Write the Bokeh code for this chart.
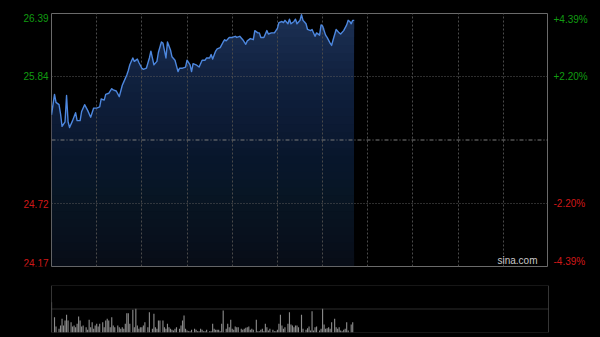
import numpy as np
from bokeh.plotting import figure
from bokeh.models import Range1d, FixedTicker, Grid, Span, Label
from bokeh.layouts import column, row
from bokeh.core.properties import value
from bokeh.embed import file_html
from bokeh.resources import INLINE

# ---- data ----
session_minutes = 330          # 09:30-12:00, 13:00-16:00
grid_minutes = [30, 60, 90, 120, 150, 180, 210, 240, 270, 300]
prev_close = 25.28
price_ticks = [26.39, 25.84, 24.72, 24.17]
price_labels = ["26.39", "25.84", "24.72", "24.17"]
pct_labels = ["+4.39%", "+2.20%", "-2.20%", "-4.39%"]

minutes = [0, 2, 3, 5, 6, 7, 9, 10, 11, 12,
           14, 16, 17, 19, 20, 22, 24, 26, 28, 30,
           32, 33, 35, 36, 38, 40, 41, 43, 45, 46,
           47, 48, 50, 51, 52, 54, 55, 57, 58, 60,
           61, 63, 65, 66, 68, 70, 71, 73, 74, 76,
           77, 79, 80, 82, 84, 85, 87, 89, 90, 92,
           93, 94, 96, 98, 100, 102, 103, 105, 106, 107,
           109, 110, 112, 114, 115, 116, 118, 120, 122, 123,
           125, 127, 129, 130, 132, 134, 135, 137, 138, 139,
           141, 143, 144, 146, 148, 150, 151, 153, 154, 155,
           157, 158, 159, 161, 162, 163, 165, 166, 167, 169,
           170, 172, 173, 175, 176, 178, 179, 180, 182, 183,
           185, 186, 187, 189, 191, 192, 194, 196, 197, 198,
           199, 200, 201]

prices = [25.50, 25.68, 25.61, 25.59, 25.51, 25.40, 25.44, 25.67, 25.44, 25.39,
          25.45, 25.52, 25.45, 25.45, 25.53, 25.59, 25.54, 25.48, 25.56, 25.56,
          25.57, 25.64, 25.63, 25.68, 25.69, 25.73, 25.72, 25.71, 25.66, 25.71,
          25.76, 25.79, 25.85, 25.89, 25.94, 26.00, 25.97, 25.99, 25.96, 25.91,
          25.90, 25.91, 26.00, 26.06, 25.94, 25.97, 26.05, 26.14, 26.13, 26.00,
          26.14, 26.07, 26.01, 25.98, 25.88, 25.91, 25.91, 25.92, 25.98, 25.94,
          25.88, 25.95, 25.94, 25.92, 25.98, 25.98, 26.00, 26.00, 26.03, 25.99,
          26.06, 26.08, 26.09, 26.14, 26.16, 26.15, 26.18, 26.18, 26.19, 26.18,
          26.19, 26.16, 26.12, 26.15, 26.17, 26.16, 26.24, 26.22, 26.22, 26.18,
          26.18, 26.24, 26.21, 26.22, 26.22, 26.26, 26.31, 26.32, 26.31, 26.33,
          26.30, 26.34, 26.30, 26.32, 26.34, 26.30, 26.33, 26.38, 26.33, 26.30,
          26.25, 26.24, 26.25, 26.19, 26.22, 26.20, 26.29, 26.28, 26.20, 26.18,
          26.13, 26.11, 26.16, 26.25, 26.22, 26.21, 26.24, 26.29, 26.33, 26.32,
          26.30, 26.33, 26.33]

vol_minutes = [0, 2, 3, 5, 6, 7, 8, 9, 10, 11,
               13, 14, 15, 16, 17, 18, 19, 20, 21, 23,
               24, 25, 26, 27, 28, 29, 30, 31, 32, 34,
               35, 36, 37, 38, 39, 40, 41, 42, 44, 45,
               46, 47, 48, 49, 50, 51, 52, 54, 55, 56,
               57, 58, 59, 60, 61, 62, 64, 65, 67, 68,
               69, 70, 71, 72, 74, 75, 76, 77, 78, 79,
               80, 81, 82, 83, 85, 86, 87, 88, 89, 90,
               91, 92, 93, 95, 96, 97, 98, 99, 100, 101,
               102, 103, 105, 106, 107, 108, 109, 110, 111, 112,
               113, 114, 116, 117, 118, 119, 120, 121, 122, 123,
               124, 126, 127, 128, 129, 130, 131, 132, 133, 134,
               136, 137, 138, 139, 140, 141, 142, 143, 144, 145,
               147, 148, 149, 150, 151, 152, 153, 154, 155, 157,
               158, 159, 160, 161, 162, 163, 164, 166, 167, 169,
               170, 171, 172, 173, 174, 175, 176, 178, 179, 180,
               181, 182, 183, 184, 185, 186, 188, 189, 190, 191,
               192, 193, 194, 195, 196, 197, 199, 200]

volumes = [30.3, 15.3, 6, 3.7, 7, 13.7, 7, 12, 17.7, 12,
           10.3, 6, 7, 5.3, 8.7, 16, 12, 6, 7, 5.3,
           2.7, 12.7, 5.3, 10.3, 3.7, 7, 8.7, 6, 8.7, 10.3,
           5.3, 12, 13.7, 12, 5.3, 15.3, 7, 5.3, 7, 5.3,
           3.7, 5.3, 3.7, 8.7, 19.3, 19.3, 8.7, 22.7, 5.3, 23.7,
           7, 3.7, 5.3, 5.3, 7, 10.3, 5.3, 20.3, 3.7, 18.7,
           5.3, 3.7, 12, 12, 12, 5.3, 3.7, 8.7, 5.3, 3.7,
           2.7, 2, 3.7, 5.3, 3.7, 7, 12, 17, 3.7, 2,
           1.3, 1.3, 2.7, 3.7, 2.7, 1.3, 1.3, 3.7, 2.7, 1.3,
           1.3, 2.7, 1.3, 1.3, 8.7, 3.7, 2.7, 2.7, 2.7, 1.3,
           8.7, 22, 3.7, 8.7, 5.3, 12.7, 3.7, 2.7, 6, 5.3,
           5.3, 3.7, 2.7, 3.7, 4.7, 5.3, 6, 2.7, 3.7, 2.7,
           12.7, 1.3, 1.3, 2.7, 3.7, 1.3, 8.7, 5.3, 2, 3.7,
           2.7, 1.3, 1.3, 2.7, 8.7, 17.7, 7, 3.7, 5.3, 8.7,
           20.3, 8, 7, 5.3, 7, 7, 5.3, 17.7, 3.7, 2.7,
           4.3, 6, 2, 21.3, 2, 5.3, 6, 2, 3.7, 23.7,
           8, 3.7, 4.3, 5.3, 3.7, 10.3, 13.7, 5.3, 3.7, 5.3,
           2, 1.3, 2.7, 3.7, 10.3, 2, 8, 10.3]
vol_max = 47

# ---- styling ----
GREEN = "#119c11"
RED = "#d01818"
BORDER = "#6a6a6a"
GRID = "#4a4a4a"
FONT = "Liberation Sans"
TOP_H = 275
MB_TOP, MB_BOT = 13, 9
LEFT_W, RIGHT_W = 51, 52


def base_fig(**kw):
    f = figure(x_axis_location=None, y_axis_location=None,
               background_fill_color="black", border_fill_color="black",
               toolbar_location=None, output_backend="svg", **kw)
    f.grid.visible = False
    return f


xr = Range1d(0, session_minutes)
yr = Range1d(price_ticks[-1], price_ticks[0])

p = base_fig(width=600 - LEFT_W - RIGHT_W, height=TOP_H, x_range=xr, y_range=yr,
             min_border_left=0, min_border_right=0,
             min_border_top=MB_TOP, min_border_bottom=MB_BOT,
             outline_line_color=BORDER, outline_line_width=1)

# gradient area fill (stacked translucent bands, brighter towards the top)
price_arr = np.array(prices)
lo, hi = price_ticks[-1], price_ticks[0]
N = 32
c0 = 0.28
prev_cov = 0.0
for k in range(N):
    level = lo + (hi - lo) * k / N
    cov = c0 + (1 - c0) * k / (N - 1)
    a = 1 - (1 - cov) / (1 - prev_cov) if prev_cov < 1 else 0
    prev_cov = cov
    r = p.varea(x=minutes, y1=level, y2=np.maximum(price_arr, level),
                fill_color="#1d3053", fill_alpha=float(a))
    r.level = "image"

# grids
p.add_layout(Grid(dimension=0, ticker=FixedTicker(ticks=grid_minutes),
                  grid_line_color=GRID, grid_line_dash="2 2", grid_line_width=1), "center")
p.add_layout(Grid(dimension=1, ticker=FixedTicker(ticks=[price_ticks[1], price_ticks[2]]),
                  grid_line_color="#5a5a5a", grid_line_dash="1 2", grid_line_width=1), "center")
p.add_layout(Span(location=prev_close, dimension="width", line_color="#7a7a7a",
                  line_dash="4 2 1 2", line_width=1))

p.line(minutes, prices, line_color="#4d87de", line_width=1.4, line_join="round")

p.add_layout(Label(x=session_minutes, y=lo, x_offset=-11, y_offset=1, text="sina.com",
                   text_align="right", text_baseline="bottom", text_color="#c8c8c8",
                   text_font=FONT, text_font_size="10px"))

# side label panels sharing the price scale
left = base_fig(width=LEFT_W, height=TOP_H, x_range=Range1d(0, LEFT_W), y_range=yr,
                min_border_left=0, min_border_right=0,
                min_border_top=MB_TOP, min_border_bottom=MB_BOT,
                outline_line_color=None)
right = base_fig(width=RIGHT_W, height=TOP_H, x_range=Range1d(0, RIGHT_W), y_range=yr,
                 min_border_left=0, min_border_right=0,
                 min_border_top=MB_TOP, min_border_bottom=MB_BOT,
                 outline_line_color=None)

baselines = ["top", "middle", "middle", "bottom"]
colors = [GREEN, GREEN, RED, RED]
for val, txt, pct, bl, col in zip(price_ticks, price_labels, pct_labels, baselines, colors):
    left.text(x=[LEFT_W - 3], y=[val], text=[txt], text_align="right",
              text_baseline=bl, text_color=col, text_font=value(FONT),
              text_font_size="10px")
    right.text(x=[5], y=[val], text=[pct], text_align="left",
               text_baseline=bl, text_color=col, text_font=value(FONT),
               text_font_size="10px")

# volume panel
v = base_fig(width=600, height=337 - TOP_H, x_range=xr, y_range=Range1d(0, vol_max),
             min_border_left=LEFT_W, min_border_right=RIGHT_W,
             min_border_top=10, min_border_bottom=5,
             outline_line_color=None)
for loc in (0, vol_max / 2, vol_max):
    v.add_layout(Span(location=loc, dimension="width", line_color="#5a5a5a",
                      line_dash="1 1", line_width=1))
v.add_layout(Span(location=0, dimension="height", line_color=BORDER, line_width=1))
v.add_layout(Span(location=session_minutes, dimension="height", line_color=BORDER, line_width=1))
v.vbar(x=vol_minutes, top=volumes, bottom=0, width=0.75, fill_color="#8a8a8a",
       line_color=None)

layout = column(row(left, p, right, spacing=0), v, spacing=0)
layout.background = "black"

open("out.html", "w").write(file_html(layout, INLINE))
